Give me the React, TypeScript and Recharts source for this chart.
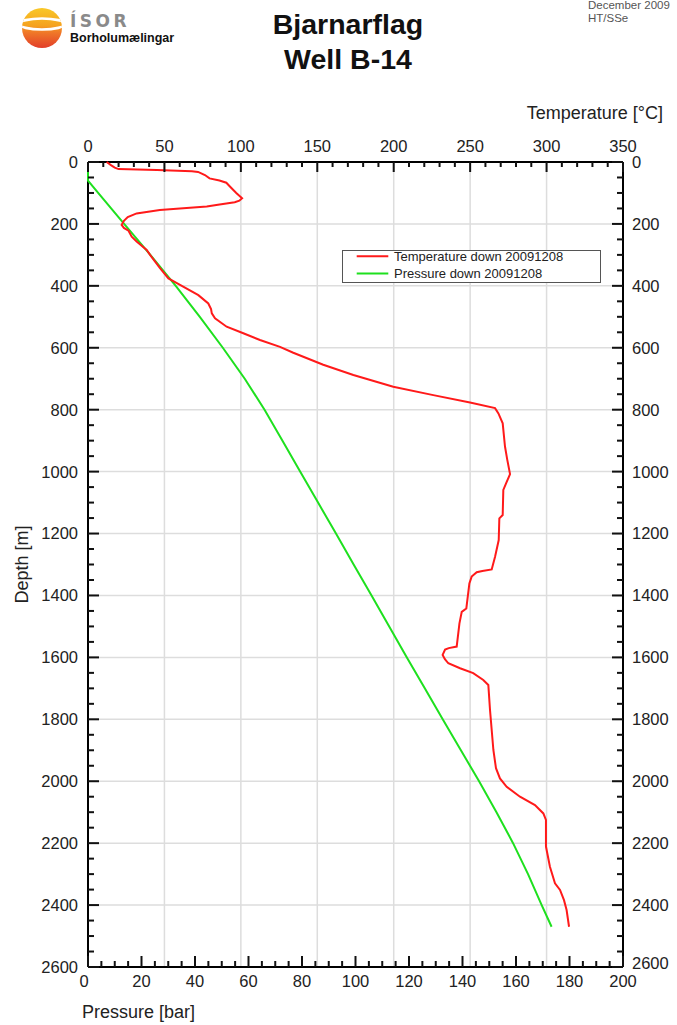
import React from 'react';
import { ScatterChart, Scatter, XAxis, YAxis, ReferenceLine, Legend } from 'recharts';

// ---------- data ----------
const TEMP_DEPTH = [0, 10, 18, 23, 26, 30, 32, 42, 53, 60, 67, 80, 100, 117, 125, 130, 138, 144, 155, 166, 178, 190, 203, 213, 222, 241, 257, 284, 300, 343, 376, 397, 430, 457, 475, 489, 505, 532, 553, 575, 597, 616, 655, 688, 726, 753, 777, 795, 812, 844, 919, 962, 1008, 1038, 1059, 1140, 1151, 1221, 1275, 1316, 1321, 1325, 1339, 1361, 1442, 1453, 1490, 1565, 1570, 1575, 1592, 1606, 1619, 1635, 1651, 1673, 1689, 1770, 1899, 1958, 1991, 2018, 2050, 2077, 2104, 2125, 2211, 2276, 2330, 2351, 2384, 2416, 2470];
const TEMP_VALUES = [12.2, 15, 17.5, 20, 45, 68, 72, 76.5, 79.5, 86, 90.5, 93, 97, 100.8, 99, 96, 85, 77.7, 47, 31.8, 26, 23.5, 22, 23.5, 26.5, 28.6, 31.8, 38.4, 40.6, 47.1, 52.6, 60.2, 72.2, 78.7, 80.5, 81, 83.1, 90.7, 101.6, 112.5, 125.6, 134.3, 153.9, 173.6, 199.7, 225.9, 249.9, 266.3, 268.5, 271.3, 272.8, 274.3, 276.1, 273.5, 271.7, 271.3, 269.1, 268.7, 266.3, 264.1, 258, 254.3, 251, 249.5, 247.5, 244.5, 243, 241.2, 236, 233.6, 232, 233.5, 235.7, 243.4, 252, 258.6, 261.9, 263, 265.2, 266.9, 269.5, 273.9, 282.6, 292.4, 297.9, 299.6, 299.6, 302.2, 305.5, 308.8, 311.4, 313.1, 314.7];

const PRES_DEPTH = [0, 60, 100, 200, 300, 400, 500, 600, 700, 800, 900, 1000, 1100, 1200, 1300, 1400, 1500, 1600, 1700, 1800, 1900, 2000, 2100, 2200, 2300, 2400, 2470];
const PRES_VALUES = [0, 0, 3.8, 13.5, 23.3, 32.8, 41.8, 50.4, 58.6, 66, 72.7, 79.3, 86, 92.7, 99.3, 106, 112.6, 119.2, 125.9, 132.6, 139.4, 146.2, 152.7, 158.9, 164.5, 169.6, 173.3];

const TEMP_LABELS = [0, 50, 100, 150, 200, 250, 300, 350];
const PRES_LABELS = [0, 20, 40, 60, 80, 100, 120, 140, 160, 180, 200];
const DEPTH_LABELS = [0, 200, 400, 600, 800, 1000, 1200, 1400, 1600, 1800, 2000, 2200, 2400, 2600];
const TEMP_GRID = [50, 100, 150, 200, 250, 300];
const DEPTH_GRID = [200, 400, 600, 800, 1000, 1200, 1400, 1600, 1800, 2000, 2200, 2400];

const TEMP_MINOR_STEP = 10;
const PRES_MINOR_STEP = 5;
const DEPTH_MINOR_STEP = 50;

const SERIES_TEMP = 'Temperature down 20091208';
const SERIES_PRES = 'Pressure down 20091208';

const steps = (max: number, step: number) => Array.from({ length: Math.round(max / step) + 1 }, (_, i) => i * step);
const TEMP_TICKS = steps(350, TEMP_MINOR_STEP);
const PRES_TICKS = steps(200, PRES_MINOR_STEP);
const DEPTH_TICKS = steps(2600, DEPTH_MINOR_STEP);

const tempData = TEMP_DEPTH.map((d, i) => ({ d, t: TEMP_VALUES[i] }));
const presData = PRES_DEPTH.map((d, i) => ({ d, p: PRES_VALUES[i] }));

// ---------- styles ----------
const RED = '#ff1a1a';
const GREEN = '#1ee01e';
const GRID = '#dddddd';
const FONT = '"Liberation Sans", Arial, Helvetica, sans-serif';
const TICK_FS = 16.5;
const TITLE_FS = 18;
const MAJOR_LEN = 10;
const MINOR_LEN = 5;
const TICK_W = 2;
const TICK_COLOR = '#111';

const TopTick = (props: any) => {
  const x = Number(props.x);
  const y = Number(props.y);
  const v = props.payload.value;
  const major = TEMP_LABELS.includes(v);
  return (
    <g>
      <path d={`M${x},${y}L${x},${y + (major ? MAJOR_LEN : MINOR_LEN)}`} stroke={TICK_COLOR} strokeWidth={TICK_W} fill="none" />
      {major && (
        <text x={x} y={y - 10} textAnchor="middle" fontSize={TICK_FS} fontFamily={FONT} fill="#222">{v}</text>
      )}
    </g>
  );
};

const BottomTick = (props: any) => {
  const x = Number(props.x);
  const y = Number(props.y);
  const v = props.payload.value;
  const major = PRES_LABELS.includes(v);
  return (
    <g>
      <path d={`M${x},${y}L${x},${y - (major ? MAJOR_LEN + 1 : MINOR_LEN + 1)}`} stroke={TICK_COLOR} strokeWidth={TICK_W} fill="none" />
      {major && (
        <text x={v === 0 ? x - 4 : x} y={y + 20} textAnchor="middle" fontSize={TICK_FS} fontFamily={FONT} fill="#222">{v}</text>
      )}
    </g>
  );
};

const LeftTick = (props: any) => {
  const x = Number(props.x);
  const y = Number(props.y);
  const v = props.payload.value;
  const major = DEPTH_LABELS.includes(v);
  return (
    <g>
      <path d={`M${x},${y}L${x + (major ? MAJOR_LEN + 1 : MINOR_LEN + 1)},${y}`} stroke={TICK_COLOR} strokeWidth={TICK_W} fill="none" />
      {major && (
        <text x={x - 10} y={y} dy="0.36em" textAnchor="end" fontSize={TICK_FS} fontFamily={FONT} fill="#222">{v}</text>
      )}
    </g>
  );
};

const RightTick = (props: any) => {
  const x = Number(props.x);
  const y = Number(props.y);
  const v = props.payload.value;
  const major = DEPTH_LABELS.includes(v);
  return (
    <g>
      <path d={`M${x},${y}L${x - (major ? MAJOR_LEN + 1 : MINOR_LEN + 1)},${y}`} stroke={TICK_COLOR} strokeWidth={TICK_W} fill="none" />
      {major && (
        <text x={x + 9} y={v === 2600 ? y - 4 : y} dy="0.36em" textAnchor="start" fontSize={TICK_FS} fontFamily={FONT} fill="#222">{v}</text>
      )}
    </g>
  );
};

const LegendBox = () => (
  <svg width={259} height={33} style={{ display: 'block' }}>
    <rect x={0.5} y={0.5} width={258} height={32} fill="#fff" stroke="#555" strokeWidth={1} />
    <line x1={14.7} x2={46.3} y1={6.3} y2={6.3} stroke={RED} strokeWidth={2} />
    <text x={52} y={11.3} fontSize={13} fontFamily={FONT} fill="#222">{SERIES_TEMP}</text>
    <line x1={14.7} x2={46.3} y1={23.5} y2={23.5} stroke={GREEN} strokeWidth={2} />
    <text x={52} y={28} fontSize={13} fontFamily={FONT} fill="#222">{SERIES_PRES}</text>
  </svg>
);

const Header = () => (
  <svg width={677} height={100} style={{ position: 'absolute', left: 0, top: 0, pointerEvents: 'none' }}>
    <defs>
      <linearGradient id="sun" x1="0" y1="0" x2="0" y2="1">
        <stop offset="0" stopColor="#f9c828" />
        <stop offset="0.45" stopColor="#f5a11f" />
        <stop offset="0.6" stopColor="#f07a28" />
        <stop offset="1" stopColor="#e23e2a" />
      </linearGradient>
      <clipPath id="sunclip">
        <circle cx={42} cy={28} r={20} />
      </clipPath>
    </defs>
    <circle cx={42} cy={28} r={20} fill="url(#sun)" />
    <g clipPath="url(#sunclip)">
      <ellipse cx={42} cy={24} rx={23} ry={5.5} fill="none" stroke="#fff" strokeWidth={2.6} />
    </g>
    <text x={70} y={27} fontSize={17} fontWeight="bold" fontFamily='"DejaVu Sans", sans-serif' fill="#8a8a8a" letterSpacing={3.5}>ÍSOR</text>
    <text x={70} y={42} fontSize={12.5} fontWeight="bold" fontFamily={FONT} fill="#111">Borholumælingar</text>
    <text x={348} y={34} fontSize={28.5} fontWeight="bold" textAnchor="middle" fontFamily={FONT} fill="#111">Bjarnarflag</text>
    <text x={348} y={69} fontSize={28.5} fontWeight="bold" textAnchor="middle" fontFamily={FONT} fill="#111">Well B-14</text>
    <text x={588} y={9} fontSize={11.5} fontFamily={FONT} fill="#555">December 2009</text>
    <text x={588} y={22} fontSize={11.5} fontFamily={FONT} fill="#555">HT/SSe</text>
  </svg>
);

export default function App() {
  return (
    <div style={{ position: 'absolute', left: 0, top: 0, width: 677, height: 1025, background: '#fff', fontFamily: FONT }}>
      <ScatterChart width={677} height={1025} margin={{ top: 122, right: 4, bottom: 18, left: 28 }}>
        {TEMP_GRID.map((v) => (
          <ReferenceLine key={'tg' + v} xAxisId="temp" yAxisId="left" x={v} stroke={GRID} strokeWidth={1.5} />
        ))}
        {DEPTH_GRID.map((v) => (
          <ReferenceLine key={'dg' + v} xAxisId="temp" yAxisId="left" y={v} stroke={GRID} strokeWidth={1.5} />
        ))}
        <XAxis
          xAxisId="temp"
          orientation="top"
          type="number"
          dataKey="t"
          domain={[0, 350]}
          ticks={TEMP_TICKS}
          interval={0}
          height={40}
          tickSize={0}
          tickMargin={0}
          tickLine={false}
          tick={TopTick}
          axisLine={{ stroke: '#000', strokeWidth: 2 }}
          label={{
            content: (p: any) => (
              <text x={p.viewBox.x + p.viewBox.width + 40} y={p.viewBox.y - 3} textAnchor="end" fontSize={TITLE_FS} fontFamily={FONT} fill="#222">Temperature [°C]</text>
            ),
          }}
        />
        <XAxis
          xAxisId="pres"
          orientation="bottom"
          type="number"
          dataKey="p"
          domain={[0, 200]}
          ticks={PRES_TICKS}
          interval={0}
          height={40}
          tickSize={0}
          tickMargin={0}
          tickLine={false}
          tick={BottomTick}
          axisLine={{ stroke: '#000', strokeWidth: 2 }}
          label={{
            content: (p: any) => (
              <text x={p.viewBox.x - 6} y={p.viewBox.y + 51} textAnchor="start" fontSize={TITLE_FS} fontFamily={FONT} fill="#222">Pressure [bar]</text>
            ),
          }}
        />
        <YAxis
          yAxisId="left"
          orientation="left"
          type="number"
          dataKey="d"
          domain={[0, 2600]}
          reversed
          ticks={DEPTH_TICKS}
          interval={0}
          width={60}
          tickSize={0}
          tickMargin={0}
          tickLine={false}
          tick={LeftTick}
          axisLine={{ stroke: '#000', strokeWidth: 2 }}
          label={{
            content: (p: any) => {
              const cx = p.viewBox.x - 6;
              const cy = p.viewBox.y + p.viewBox.height / 2;
              return (
                <text x={cx} y={cy} transform={`rotate(-90 ${cx} ${cy})`} textAnchor="middle" dy="0.36em" fontSize={TITLE_FS} fontFamily={FONT} fill="#222">Depth [m]</text>
              );
            },
          }}
        />
        <YAxis
          yAxisId="right"
          orientation="right"
          type="number"
          dataKey="d"
          domain={[0, 2600]}
          reversed
          ticks={DEPTH_TICKS}
          interval={0}
          width={50}
          tickSize={0}
          tickMargin={0}
          tickLine={false}
          tick={RightTick}
          axisLine={{ stroke: '#000', strokeWidth: 2 }}
        />
        <Legend
          layout="vertical"
          align="center"
          verticalAlign="middle"
          wrapperStyle={{ left: 342, top: 250, width: 259, height: 33 }}
          content={() => <LegendBox />}
        />
        <Scatter
          name={SERIES_PRES}
          data={presData}
          xAxisId="pres"
          yAxisId="right"
          fill={GREEN}
          line={{ stroke: GREEN, strokeWidth: 2 }}
          lineType="joint"
          shape={() => <g />}
          isAnimationActive={false}
        />
        <Scatter
          name={SERIES_TEMP}
          data={tempData}
          xAxisId="temp"
          yAxisId="left"
          fill={RED}
          line={{ stroke: RED, strokeWidth: 2 }}
          lineType="joint"
          shape={() => <g />}
          isAnimationActive={false}
        />
      </ScatterChart>
      <Header />
    </div>
  );
}
